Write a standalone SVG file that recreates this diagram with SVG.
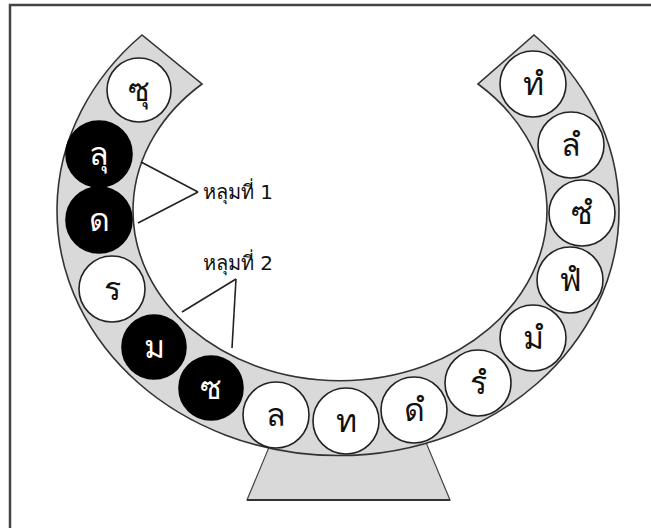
<svg xmlns="http://www.w3.org/2000/svg" width="651" height="528" viewBox="0 0 651 528">
<style>
.bg{fill:#ffffff}
.frame{fill:none;stroke:#444;stroke-width:2.5}
.body{fill:#d9d9d9;stroke:#333;stroke-width:1.6}
.base{fill:#d9d9d9;stroke:#444;stroke-width:1.2}
.w circle{fill:#fff;stroke:#222;stroke-width:1.6}
.b circle{fill:#000;stroke:#000;stroke-width:1.6}
.w text{fill:#111}
.b text{fill:#fff}
text.t{font-family:Tahoma,"DejaVu Sans","Noto Sans",sans-serif;font-size:32px;text-anchor:middle}
.lbl{font-family:Tahoma,"DejaVu Sans","Noto Sans",sans-serif;font-size:20px;fill:#111}
.ptr line{stroke:#222;stroke-width:1.6}
</style>
<rect class="bg" x="0" y="0" width="651" height="528"/>
<path class="frame" d="M10,528 V5 H651"/>
<polygon class="base" points="272,440 425,440 450,500 247,500"/>
<line x1="247" y1="500" x2="450" y2="500" stroke="#333" stroke-width="2"/>
<path class="body" d="M142,35 A281,245 0 1 0 534,35 L478,84 A207,170 0 1 1 202,84 Z"/>
<g id="n-su" class="w"><circle cx="139" cy="90" r="32"/><text class="t" x="139" y="101">ซุ</text></g>
<g id="n-lu" class="b"><circle cx="99" cy="154" r="33"/><text class="t" x="99" y="165">ลุ</text></g>
<g id="n-d" class="b"><circle cx="99" cy="220" r="33"/><text class="t" x="99" y="231">ด</text></g>
<g id="n-r" class="w"><circle cx="112" cy="289" r="33"/><text class="t" x="112" y="300">ร</text></g>
<g id="n-m" class="b"><circle cx="154" cy="347" r="32"/><text class="t" x="154" y="358">ม</text></g>
<g id="n-s" class="b"><circle cx="211" cy="388" r="32"/><text class="t" x="211" y="399">ซ</text></g>
<g id="n-l" class="w"><circle cx="276" cy="415" r="33"/><text class="t" x="276" y="426">ล</text></g>
<g id="n-t" class="w"><circle cx="346" cy="421" r="33"/><text class="t" x="346" y="432">ท</text></g>
<g id="n-dam" class="w"><circle cx="414" cy="410" r="33"/><text class="t" x="414" y="421">ดํ</text></g>
<g id="n-ram" class="w"><circle cx="478" cy="383" r="33"/><text class="t" x="478" y="394">รํ</text></g>
<g id="n-mam" class="w"><circle cx="533" cy="338" r="33"/><text class="t" x="533" y="349">มํ</text></g>
<g id="n-fam" class="w"><circle cx="570" cy="280" r="33"/><text class="t" x="570" y="291">ฟํ</text></g>
<g id="n-sam" class="w"><circle cx="582" cy="213" r="33"/><text class="t" x="582" y="224">ซํ</text></g>
<g id="n-lam" class="w"><circle cx="571" cy="145" r="33"/><text class="t" x="571" y="156">ลํ</text></g>
<g id="n-tam" class="w"><circle cx="533" cy="84" r="33"/><text class="t" x="533" y="95">ทํ</text></g>
<g id="connectors" class="ptr">
<line x1="141" y1="162" x2="198" y2="192"/>
<line x1="138" y1="223" x2="198" y2="192"/>
<line x1="182" y1="312" x2="236" y2="279"/>
<line x1="236" y1="279" x2="232" y2="348"/>
</g>
<g id="label1"><text class="lbl" x="203" y="199">หลุมที่ 1</text></g>
<g id="label2"><text class="lbl" x="203" y="270">หลุมที่ 2</text></g>
</svg>
